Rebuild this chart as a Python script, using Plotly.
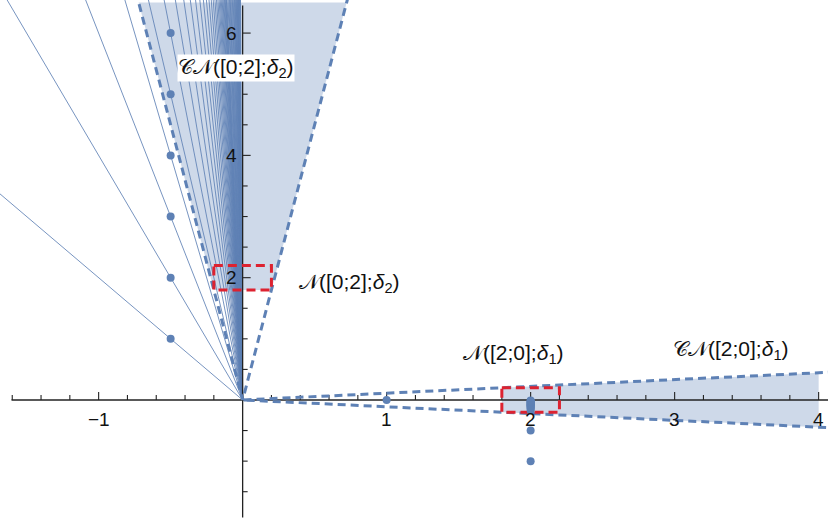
import plotly.graph_objects as go

# ---------------- data ----------------
BLUE = "#5E81B5"
RED = "#DD2230"
SHADE = "rgba(94,129,181,0.30)"

# fan of rays from the origin through (-1/2, k)
fan_dir_x = -0.5
fan_k = [1, 2, 3, 4, 5, 6, 7, 8, 9, 10, 11, 12, 13, 14, 15, 16, 17, 18, 19, 20,
         21, 22, 23, 24, 25, 26, 27, 28, 29, 30, 32, 34, 36, 38, 40, 43, 46, 50,
         54, 58, 63, 68, 74, 80, 88, 96, 105, 115, 130, 150, 180, 220]
# visible dots of the sequence (-1/2, k)
dots_a_x = [-0.5, -0.5, -0.5, -0.5, -0.5, -0.5]
dots_a_y = [1, 2, 3, 4, 5, 6]
# sequence converging to (2, 0) from below, plus the point (1, 0)
dots_b_x = [1, 2, 2, 2, 2, 2, 2, 2, 2, 2, 2, 2, 2, 2, 2, 2, 2]
dots_b_y = [0, -1.0, -0.5, -0.17, -0.14, -0.125, -0.11, -0.1, -0.09, -0.08,
            -0.07, -0.06, -0.05, -0.04, -0.03, -0.02, -0.01]

# neighbourhood boxes N(center; delta) and cones
delta = 0.2
box1_center = (2, 0)
box2_center = (0, 2)

# axes ticks
x_major = [-1, 1, 2, 3, 4]
x_major_labels = ["\u22121", "1", "2", "3", "4"]
x_minor = [-1.6, -1.4, -1.2, -0.8, -0.6, -0.4, -0.2, 0.2, 0.4, 0.6, 0.8, 1.2, 1.4,
           1.6, 1.8, 2.2, 2.4, 2.6, 2.8, 3.2, 3.4, 3.6, 3.8]
y_major = [2, 4, 6]
y_major_labels = ["2", "4", "6"]
y_minor = [-1.5, -1, -0.5, 0.5, 1, 1.5, 2.5, 3, 3.5, 4.5, 5, 5.5]

X_RANGE = [-1.685, 4.065]
Y_RANGE = [-1.979, 6.541]
PX_X = 144.0   # px per x unit
PX_Y = 61.15   # px per y unit

fig = go.Figure()

# ---------------- shaded cones ----------------
cx, cy = box2_center
y_top = 6.5
k_top = (cx + delta) / (cy - delta)
fig.add_trace(go.Scatter(
    x=[-k_top * (cy - delta), k_top * (cy - delta), k_top * y_top, -k_top * y_top],
    y=[cy - delta, cy - delta, y_top, y_top],
    fill="toself", fillcolor=SHADE, line=dict(width=0), mode="lines",
    hoverinfo="skip", showlegend=False))

bx, by = box1_center
s_r = (by + delta) / (bx - delta)
x_end = 4.0
fig.add_trace(go.Scatter(
    x=[bx - delta, x_end, x_end, bx - delta],
    y=[s_r * (bx - delta), s_r * x_end, -s_r * x_end, -s_r * (bx - delta)],
    fill="toself", fillcolor=SHADE, line=dict(width=0), mode="lines",
    hoverinfo="skip", showlegend=False))

# ---------------- fan lines ----------------
fx, fy = [], []
for k in fan_k:
    t = 8.0 / k
    fx += [0, fan_dir_x * t, None]
    fy += [0, k * t, None]
fig.add_trace(go.Scatter(x=fx, y=fy, mode="lines",
                         line=dict(color=BLUE, width=0.85),
                         hoverinfo="skip", showlegend=False))

# ---------------- axes ----------------
AX = "#222222"
fig.add_trace(go.Scatter(x=[-1.605, 4.2], y=[0, 0], mode="lines",
                         line=dict(color=AX, width=1.3), hoverinfo="skip", showlegend=False))
fig.add_trace(go.Scatter(x=[0, 0], y=[-1.92, 6.45], mode="lines",
                         line=dict(color=AX, width=1.3), hoverinfo="skip", showlegend=False))
tx, ty = [], []
for v in x_major:
    tx += [v, v, None]; ty += [0, 8 / PX_Y, None]
for v in x_minor:
    tx += [v, v, None]; ty += [0, 5 / PX_Y, None]
for v in y_major:
    tx += [0, 8 / PX_X, None]; ty += [v, v, None]
for v in y_minor:
    tx += [0, 5 / PX_X, None]; ty += [v, v, None]
fig.add_trace(go.Scatter(x=tx, y=ty, mode="lines", line=dict(color=AX, width=1.1),
                         hoverinfo="skip", showlegend=False))

# ---------------- dashed cone boundaries ----------------
dash = "8px,5px"
far_y = 7.5
fig.add_trace(go.Scatter(x=[-k_top * far_y, 0, k_top * far_y], y=[far_y, 0, far_y],
                         mode="lines", line=dict(color=BLUE, width=3, dash=dash),
                         hoverinfo="skip", showlegend=False))
far_x = 4.3
fig.add_trace(go.Scatter(x=[far_x, 0, far_x], y=[s_r * far_x, 0, -s_r * far_x],
                         mode="lines", line=dict(color=BLUE, width=3, dash=dash),
                         hoverinfo="skip", showlegend=False))

# ---------------- red neighbourhood boxes ----------------
for (ccx, ccy) in [box1_center, box2_center]:
    fig.add_trace(go.Scatter(
        x=[ccx - delta, ccx + delta, ccx + delta, ccx - delta, ccx - delta],
        y=[ccy + delta, ccy + delta, ccy - delta, ccy - delta, ccy + delta],
        mode="lines", line=dict(color=RED, width=3, dash="9px,5px"),
        hoverinfo="skip", showlegend=False))

# ---------------- dots ----------------
fig.add_trace(go.Scatter(x=dots_a_x + dots_b_x, y=dots_a_y + dots_b_y, mode="markers",
                         marker=dict(color=BLUE, size=8),
                         hoverinfo="skip", showlegend=False))

# ---------------- tick labels ----------------
TF = dict(family="Liberation Sans, Arial, sans-serif", size=19, color="#111111")
for v, lab in zip(x_major, x_major_labels):
    fig.add_annotation(x=v, y=0, text=lab, showarrow=False, font=TF,
                       xanchor="center", yanchor="middle", yshift=-20)
for v, lab in zip(y_major, y_major_labels):
    fig.add_annotation(x=0, y=v, text=lab, showarrow=False, font=TF,
                       xanchor="right", yanchor="middle", xshift=-4)

# ---------------- region labels ----------------
LF = dict(family="Liberation Sans, DejaVu Sans, sans-serif", size=21, color="#111111")
fig.add_annotation(x=-0.045, y=5.43, text="\U0001D49E\U0001D4A9([0;2];<i>\u03b4</i><sub>2</sub>)",
                   showarrow=False, font=LF, bgcolor="white", borderpad=0)
fig.add_annotation(x=0.74, y=1.91, text="\U0001D4A9([0;2];<i>\u03b4</i><sub>2</sub>)",
                   showarrow=False, font=LF)
fig.add_annotation(x=1.88, y=0.75, text="\U0001D4A9([2;0];<i>\u03b4</i><sub>1</sub>)",
                   showarrow=False, font=LF)
fig.add_annotation(x=3.39, y=0.82, text="\U0001D49E\U0001D4A9([2;0];<i>\u03b4</i><sub>1</sub>)",
                   showarrow=False, font=LF)

fig.update_layout(
    width=828, height=521,
    margin=dict(l=0, r=0, t=0, b=0),
    paper_bgcolor="white", plot_bgcolor="white",
    xaxis=dict(range=X_RANGE, visible=False, showgrid=False, zeroline=False),
    yaxis=dict(range=Y_RANGE, visible=False, showgrid=False, zeroline=False),
    showlegend=False,
)
fig.write_html("out.html", config={"displayModeBar": False})

# remove the default page margin so the figure fills the window exactly
with open("out.html", "r", encoding="utf-8") as f:
    html = f.read()
html = html.replace("<head>", "<head><style>html,body{margin:0;padding:0;overflow:hidden;}</style>", 1)
with open("out.html", "w", encoding="utf-8") as f:
    f.write(html)
